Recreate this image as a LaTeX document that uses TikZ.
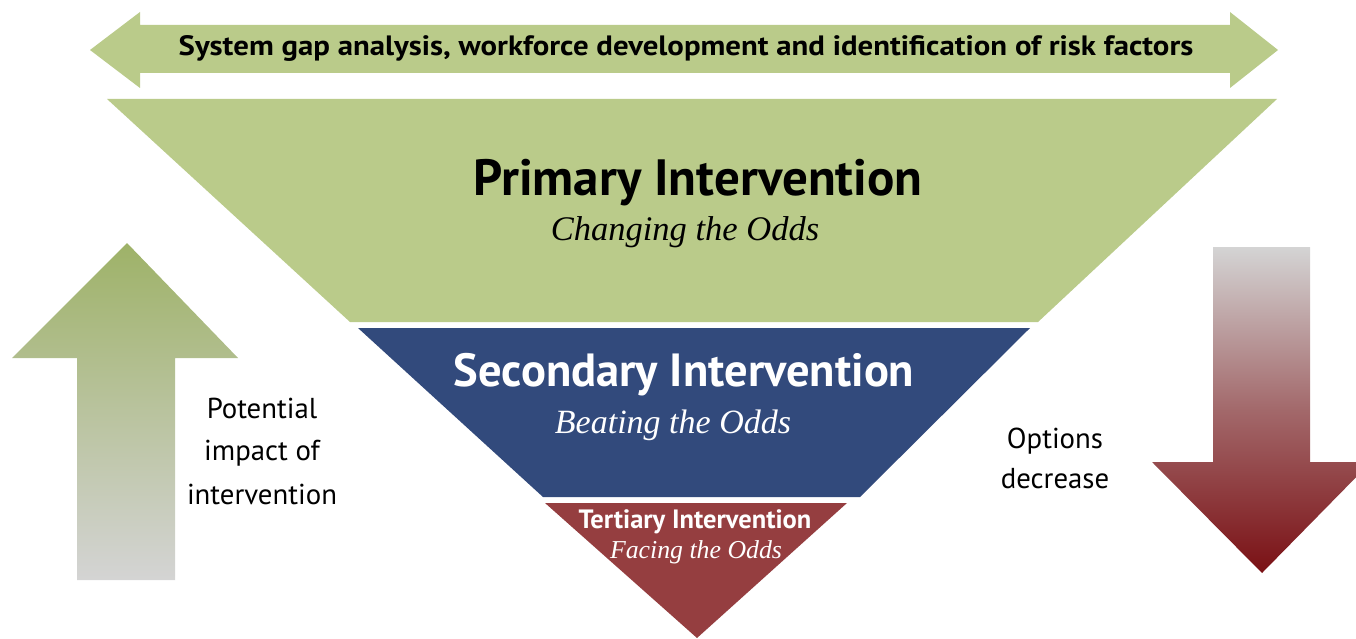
\documentclass[tikz,border=0pt]{standalone}
\usepackage{fontspec}
\usepackage{graphicx}
\setmainfont{PT Sans}
\newfontfamily\oddsfont{Liberation Serif}

\definecolor{tiergreen}{RGB}{186,203,138}
\definecolor{tierblue}{RGB}{50,74,124}
\definecolor{tierred}{RGB}{149,62,64}
\definecolor{arrowgreen}{RGB}{158,178,104}
\definecolor{arrowgray}{RGB}{212,212,212}
\definecolor{arrowred}{RGB}{122,16,20}

\begin{document}
\begin{tikzpicture}[x=1pt,y=-1pt]
		% Define styles
		\tikzstyle{tier title}=[font=\bfseries\fontsize{51}{53}\selectfont,anchor=base,inner sep=0pt]
		\tikzstyle{tier odds}=[font=\oddsfont\itshape\fontsize{34.5}{36}\selectfont,anchor=base,inner sep=0pt]
		\tikzstyle{side label}=[font=\fontsize{28.8}{30}\selectfont,anchor=base,inner sep=0pt]
		
		\useasboundingbox (0,0) rectangle (1356,639);
		\clip (0,0) rectangle (1356,639);
		
		% Double arrow on top
		\fill[tiergreen] (90,50) -- (140,12) -- (140,25) -- (1230,25) -- (1230,12)
			-- (1278,50) -- (1230,88) -- (1230,73) -- (140,73) -- (140,88) -- cycle;
		\node[tier title,font=\bfseries\fontsize{28}{30}\selectfont] (gap) at (686,56)
			{\scalebox{1.1}[1]{System gap analysis, workforce development and identification of risk factors}};
		
		% Primary tier
		\fill[tiergreen] (107,99) -- (1277,99) -- (1038,322) -- (350,322) -- cycle;
		\node[tier title] (primary) at (698,195) {Primary Intervention};
		\node[tier odds] (primaryodds) at (685,240) {Changing the Odds};
		
		% Secondary tier
		\fill[tierblue] (358,328) -- (1030,328) -- (860,497) -- (543,497) -- cycle;
		\node[tier title,white,font=\bfseries\fontsize{46.5}{48}\selectfont] (secondary) at (684,386) {Secondary Intervention};
		\node[tier odds,white,font=\oddsfont\itshape\fontsize{34}{36}\selectfont] (secondaryodds) at (673,433) {Beating the Odds};
		
		% Tertiary tier
		\fill[tierred] (545,503) -- (847,503) -- (697,638) -- cycle;
		\node[tier title,white,font=\bfseries\fontsize{26.5}{28}\selectfont] (tertiary) at (695,528) {Tertiary Intervention};
		\node[tier odds,white,font=\oddsfont\itshape\fontsize{25.8}{27}\selectfont] (tertiaryodds) at (696,558) {Facing the Odds};
		
		% Impact arrow (left)
		\shade[top color=arrowgreen,bottom color=arrowgray,middle color=arrowgreen!50!arrowgray]
			(127,243) -- (238,358) -- (175,358) -- (175,580) -- (77,580) -- (77,358) -- (12,358) -- cycle;
		\node[side label] (impact1) at (262,418) {Potential};
		\node[side label] (impact2) at (262,460) {impact of};
		\node[side label] (impact3) at (262,504) {intervention};
		
		% Options arrow (right)
		\shade[top color=arrowgray,bottom color=arrowred,middle color=arrowgray!45!arrowred]
			(1213,247) -- (1310,247) -- (1310,462) -- (1371,462) -- (1262,573) -- (1152,462) -- (1213,462) -- cycle;
		\node[side label] (options1) at (1055,448) {Options};
		\node[side label] (options2) at (1055,488) {decrease};
		
	\end{tikzpicture}
\end{document}
